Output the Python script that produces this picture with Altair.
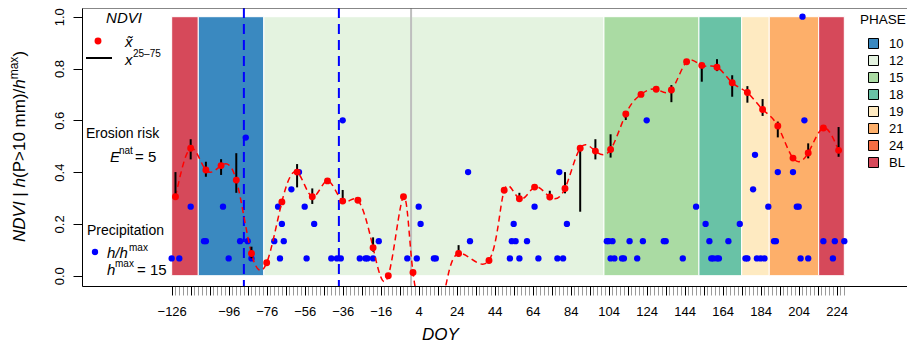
import altair as alt
import pandas as pd

FONT = "Liberation Sans"

# ---------------- data ----------------
phase_names = ["BL", "10", "12", "15", "18", "19", "21", "BL"]
phase_start = [-126, -112, -77.5, 101.5, 151.5, 174, 188.5, 214.5]
phase_end = [-112, -77.5, 101.5, 151.5, 174, 188.5, 214.5, 228]
phase_low = [0.0] * 8
phase_high = [1.0] * 8

legend_order = ["10", "12", "15", "18", "19", "21", "24", "BL"]
legend_colors = ["#3A89C0", "#E4F3E0", "#AADBA3", "#69C2A6", "#FEEAC1", "#FDAF6A", "#F46D43", "#D6495A"]

ndvi_doy = [-124, -116, -108, -100, -92, -84, -76, -68, -60, -52, -44, -36, -28, -20, -12, -4,
            1, 9, 17, 25, 41, 49, 57, 65, 73, 81, 89, 97, 105, 113, 121, 129, 137, 145, 153, 161,
            169, 177, 185, 193, 201, 209, 217, 225]
ndvi_med = [0.305, 0.492, 0.408, 0.425, 0.369, 0.086, 0.05, 0.285, 0.40, 0.305, 0.366, 0.288,
            0.291, 0.108, 0.0, 0.305, 0.012, -0.16, -0.08, 0.086, 0.059, 0.33, 0.297, 0.342, 0.304, 0.337,
            0.492, 0.481, 0.487, 0.624, 0.70, 0.72, 0.717, 0.826, 0.812, 0.805, 0.745, 0.707,
            0.642, 0.578, 0.454, 0.474, 0.57, 0.484]
ndvi_q75 = [0.40, 0.527, 0.44, 0.45, 0.473, 0.112, 0.05, 0.295, 0.431, 0.337, 0.366, 0.331,
            0.291, 0.148, 0.0, 0.305, 0.012, -0.16, -0.08, 0.118, 0.059, 0.33, 0.32, 0.342, 0.328, 0.40,
            0.492, 0.527, 0.546, 0.633, 0.70, 0.72, 0.736, 0.826, 0.812, 0.836, 0.774, 0.732,
            0.682, 0.595, 0.454, 0.511, 0.57, 0.574]
ndvi_q25 = [0.305, 0.449, 0.382, 0.389, 0.32, 0.067, 0.05, 0.278, 0.341, 0.277, 0.366, 0.28,
            0.291, 0.093, 0.0, 0.305, 0.012, -0.16, -0.08, 0.074, 0.059, 0.33, 0.286, 0.342, 0.292, 0.318,
            0.247, 0.449, 0.456, 0.601, 0.70, 0.72, 0.67, 0.826, 0.749, 0.79, 0.691, 0.668,
            0.617, 0.534, 0.454, 0.453, 0.57, 0.459]

precip_doy = [-126, -122, -116, -109, -108, -99, -96, -90, -87, -86, -84, -72, -70, -69, -68, -67,
              -63, -59, -56, -55, -51, -42, -39, -37, -36, -27, -24, -23, -20, -17, -2, 3, 4, 5,
              12, 13, 30, 31, 52, 53, 54, 55, 57, 61, 65, 67, 77, 78, 80, 82, 103, 104, 106, 105,
              107, 111, 112, 115, 119, 122, 124, 133, 134, 143, 150, 155, 157, 158, 159, 161, 162,
              167, 173, 176, 177, 180, 181, 182, 184, 186, 188, 191, 192, 193, 201, 203, 204, 205,
              206, 207, 209, 217, 222, 223, 228]
precip_h = [1, 1, 4, 2, 2, 4, 1, 2, 8, 2, 1, 2, 4, 1, 3, 2,
            5, 6, 4, 1, 3, 1, 1, 1, 9, 1, 1, 1, 1, 2, 1, 1, 4, 3,
            1, 1, 6, 2, 1, 2, 3, 2, 1, 2, 4, 1, 1, 6, 1, 3, 2, 2, 2, 1,
            1, 1, 1, 2, 1, 2, 9, 2, 2, 1, 4, 3, 2, 1, 1, 1, 1,
            2, 3, 1, 1, 5, 7, 1, 1, 1, 4, 2, 2, 6, 6, 4, 4, 1,
            15, 9, 1, 2, 1, 2, 2]
h_max = 15

blue_lines = [-88, -38]
grey_lines = [0]

x_tick_values = list(range(-126, 229, 2))
x_label_values = [-126] + list(range(-96, 225, 20))
y_tick_values = [0.0, 0.2, 0.4, 0.6, 0.8, 1.0]

# ---------------- frames ----------------
phases = pd.DataFrame({"phase": phase_names, "start": phase_start, "end": phase_end,
                       "lo": phase_low, "hi": phase_high})
ndvi = pd.DataFrame({"doy": ndvi_doy, "med": ndvi_med, "q25": ndvi_q25, "q75": ndvi_q75})
precip = pd.DataFrame({"doy": precip_doy, "rel": [h / h_max for h in precip_h]})
vblue = pd.DataFrame({"doy": blue_lines})
vgrey = pd.DataFrame({"doy": grey_lines})

W, H = 825, 278
xs = alt.Scale(domain=[-173.2, 261], nice=False, zero=False)
ys = alt.Scale(domain=[-0.0398, 1.0336], nice=False, zero=False)

label_list = "[" + ",".join(str(v) for v in x_label_values) + "]"
x_axis = alt.Axis(
    values=x_tick_values,
    labelExpr="indexof(" + label_list + ", datum.value) >= 0 ? (datum.value < 0 ? '\u2212' + abs(datum.value) : '' + datum.value) : ''",
    labelOverlap=False, labelFlush=False, grid=False,
    tickSize=9, tickWidth=1,
    tickColor=alt.condition("(datum.value + 126) % 10 == 0", alt.value("#000000"), alt.value("#9a9a9a")),
    domainColor="black", domainWidth=1,
    labelFontSize=13, labelColor="black", labelPadding=10, labelFont=FONT,
    title="DOY", titleFontSize=17, titleFontStyle="italic", titleFontWeight="normal",
    titleColor="black", titleFont=FONT, titleX=358, titleY=48, titleAlign="center",
    titleBaseline="middle", titleAnchor="start",
)
y_axis = alt.Axis(
    values=y_tick_values, format=".1f", grid=False, title=None,
    tickSize=9, tickWidth=1, tickColor="black", domainColor="black", domainWidth=1,
    labelAngle=270, labelAlign="center", labelBaseline="alphabetic", labelPadding=10,
    labelFontSize=13, labelColor="black", labelFont=FONT,
)


def X(field):
    return alt.X(field, type="quantitative", scale=xs, axis=x_axis)


def Y(field):
    return alt.Y(field, type="quantitative", scale=ys, axis=y_axis)


rects = alt.Chart(phases).mark_rect(stroke="white", strokeWidth=1, opacity=1).encode(
    x=X("start"), x2="end", y=Y("lo"), y2="hi",
    fill=alt.Fill("phase:N", scale=alt.Scale(domain=legend_order, range=legend_colors),
                  legend=alt.Legend(orient="none", legendX=785, legendY=29, title=None,
                                    symbolType="square", symbolSize=100,
                                    symbolStrokeColor="black", symbolStrokeWidth=1,
                                    symbolOpacity=1, labelFontSize=13, labelFont=FONT,
                                    labelColor="black", labelOffset=9, rowPadding=2,
                                    padding=0)),
)

vb = alt.Chart(vblue).mark_rule(color="#0000FF", strokeWidth=2, strokeDash=[10, 6]).encode(x=X("doy"))
vg = alt.Chart(vgrey).mark_rule(color="#BEBEBE", strokeWidth=2).encode(x=X("doy"))

blue_pts = alt.Chart(precip).mark_circle(size=40, color="#0000FF", opacity=1).encode(
    x=X("doy"), y=Y("rel"))

iqr = alt.Chart(ndvi).mark_rule(color="black", strokeWidth=2, clip=True).encode(
    x=X("doy"), y=Y("q25"), y2="q75")

red_line = alt.Chart(ndvi).mark_line(color="#FF0000", strokeWidth=1.5, strokeDash=[6, 4],
                                     interpolate="natural", clip=True).encode(x=X("doy"), y=Y("med"))
red_pts = alt.Chart(ndvi).mark_circle(size=48, color="#FF0000", opacity=1, clip=True).encode(
    x=X("doy"), y=Y("med"))

top_line = alt.Chart(pd.DataFrame({"a": [0]})).mark_rule(color="#333333", strokeWidth=1).encode(
    x=alt.value(0), x2=alt.value(W), y=alt.value(0))


def txt(s, x, y, size=14, style="normal", align="left", baseline="alphabetic", angle=0):
    kw = dict(text=s, fontSize=size, fontStyle=style, align=align, baseline=baseline,
              font=FONT, color="black")
    if angle:
        kw["angle"] = angle
    return alt.Chart(pd.DataFrame({"a": [0]})).mark_text(**kw).encode(
        x=alt.value(x), y=alt.value(y))


annots = [
    txt("NDVI", 42, 10, 15, "italic", "center", "middle"),
    txt("x\u0303", 43, 39, 15, "italic"),
    txt("x", 43, 57, 15, "italic"),
    txt("25\u201375", 51, 49, 10),
    txt("Erosion risk", 4, 130, 14),
    txt("E", 28, 154, 15, "italic"),
    txt("nat", 37, 146, 10),
    txt("= 5", 53, 154, 15),
    txt("Precipitation", 5, 227, 14),
    txt("h/h", 25, 250, 15, "italic"),
    txt("max", 47, 243, 10),
    txt("h", 25, 267, 15, "italic"),
    txt("max", 33, 259, 10),
    txt("= 15", 55, 267, 15),
    txt("PHASE", 778, 16, 13.5),
    # y-axis title pieces (rotated)
    txt("NDVI", -57, 234, 17, "italic", angle=270),
    txt("|", -57, 188.7, 17, angle=270),
    txt("h", -57, 179.5, 17, "italic", angle=270),
    txt("(P>10 mm)/", -57, 170, 17, angle=270),
    txt("h", -57, 80.7, 17, "italic", angle=270),
    txt("max", -64, 71.3, 12, angle=270),
    txt(")", -57, 48.6, 17, angle=270),
]

leg_red = alt.Chart(pd.DataFrame({"a": [0]})).mark_circle(size=48, color="#FF0000", opacity=1).encode(
    x=alt.value(16), y=alt.value(33))
leg_line = alt.Chart(pd.DataFrame({"a": [0]})).mark_rule(color="black", strokeWidth=2).encode(
    x=alt.value(4), x2=alt.value(30), y=alt.value(50))
leg_blue = alt.Chart(pd.DataFrame({"a": [0]})).mark_circle(size=40, color="#0000FF", opacity=1).encode(
    x=alt.value(13), y=alt.value(244))

chart = alt.layer(
    rects, vg, vb, blue_pts, red_line, iqr, red_pts, top_line, leg_red, leg_line, leg_blue, *annots
).properties(
    width=W, height=H,
    autosize=alt.AutoSizeParams(type="none"),
    padding={"left": 74, "top": 0, "right": 0, "bottom": 58},
).configure_view(stroke=None).configure(font=FONT)

chart.save("out.html", embed_options={"renderer": "svg", "actions": False})
